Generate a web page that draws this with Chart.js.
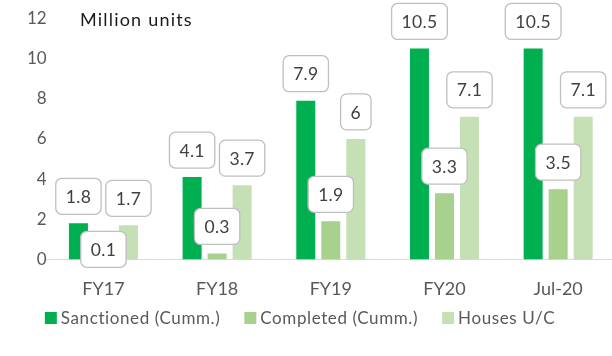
<!DOCTYPE html>
<html>
<head>
<meta charset="utf-8">
<script src="https://cdn.jsdelivr.net/npm/chart.js@4.4.1/dist/chart.umd.min.js"></script>
<style>
  html, body { margin: 0; padding: 0; background: #fff; overflow: hidden; }
  #wrap { position: relative; width: 616px; height: 356px; }
</style>
</head>
<body>
<div id="wrap"><canvas id="c" width="616" height="356"></canvas></div>
<script>
// Housing scheme progress, in million units
const categories = ['FY17', 'FY18', 'FY19', 'FY20', 'Jul-20'];
const sanctioned = [1.8, 4.1, 7.9, 10.5, 10.5];
const completed  = [0.1, 0.3, 1.9, 3.3, 3.5];
const underConstruction = [1.7, 3.7, 6, 7.1, 7.1];
const seriesNames = ['Sanctioned (Cumm.)', 'Completed (Cumm.)', 'Houses U/C'];
const yTicks = [0, 2, 4, 6, 8, 10, 12];

const COLORS = ['#00B050', '#A9D18E', '#C5E0B4'];
const FONT = 'Lato, "Open Sans", sans-serif';

// Boxed value labels above each bar; a label that would collide with an
// already placed one is pushed below it.
const boxedLabels = {
  id: 'boxedLabels',
  afterDatasetsDraw(chart) {
    const ctx = chart.ctx;
    ctx.save();
    ctx.letterSpacing = '0.3px';
    ctx.font = '17.5px ' + FONT;
    ctx.textAlign = 'center';
    ctx.textBaseline = 'middle';
    const placed = [];
    const h = 36, padX = 10, lift = 27;
    // draw order: tallest series first so smaller ones yield
    [0, 2, 1].forEach(di => {
      const meta = chart.getDatasetMeta(di);
      meta.data.forEach((bar, i) => {
        const txt = String(chart.data.datasets[di].data[i]);
        const w = ctx.measureText(txt).width + padX * 2;
        let cy = bar.y - lift;
        let box = { x: bar.x - w / 2, y: cy - h / 2, w, h };
        placed.forEach(p => {
          const ox = box.x < p.x + p.w && box.x + box.w > p.x;
          const oy = box.y < p.y + p.h && box.y + box.h > p.y;
          if (ox && oy) {
            box.y = p.y + p.h + 17;
          }
        });
        placed.push(box);
        ctx.beginPath();
        ctx.roundRect(box.x, box.y, box.w, box.h, 6);
        ctx.fillStyle = '#ffffff';
        ctx.fill();
        ctx.lineWidth = 1.3;
        ctx.strokeStyle = '#BFBFBF';
        ctx.stroke();
        ctx.fillStyle = '#404040';
        ctx.fillText(txt, box.x + box.w / 2, box.y + box.h / 2 + 1);
      });
    });
    ctx.restore();
  }
};

// Unit caption and bottom legend
const extras = {
  id: 'extras',
  afterDraw(chart) {
    const ctx = chart.ctx;
    ctx.save();
    ctx.fillStyle = '#1a1a1a';
    ctx.letterSpacing = '1.2px';
    ctx.font = '18px ' + FONT;
    ctx.textAlign = 'left';
    ctx.textBaseline = 'middle';
    ctx.fillText('Million units', 80, 20);

    ctx.letterSpacing = '0.6px';
    ctx.font = '17px ' + FONT;
    const box = 12, gap = 4, spacing = 24;
    const items = chart.data.datasets.map(d => ({
      label: d.label, color: d.backgroundColor,
      w: box + gap + ctx.measureText(d.label).width
    }));
    const total = items.reduce((s, it) => s + it.w, 0) + spacing * (items.length - 1);
    let x = 300 - total / 2;
    const y = 318;
    items.forEach(it => {
      ctx.fillStyle = it.color;
      ctx.fillRect(x, y - box / 2, box, box);
      ctx.fillStyle = '#595959';
      ctx.fillText(it.label, x + box + gap, y + 1);
      x += it.w + spacing;
    });
    ctx.restore();
  }
};

new Chart(document.getElementById('c'), {
  type: 'bar',
  data: {
    labels: categories,
    datasets: [
      { label: seriesNames[0], data: sanctioned, backgroundColor: COLORS[0] },
      { label: seriesNames[1], data: completed, backgroundColor: COLORS[1] },
      { label: seriesNames[2], data: underConstruction, backgroundColor: COLORS[2] }
    ]
  },
  options: {
    responsive: false,
    animation: false,
    layout: { padding: { top: 18.3, right: 1, bottom: 56.5, left: 19.6 } },
    datasets: { bar: { categoryPercentage: 0.66, barPercentage: 0.76 } },
    plugins: { legend: { display: false }, tooltip: { enabled: false } },
    scales: {
      x: {
        grid: { display: true, drawOnChartArea: false, drawTicks: false },
        border: { display: true, color: '#D9D9D9', width: 1 },
        ticks: { color: '#595959', font: { family: FONT, size: 18 }, padding: 19 },
        afterFit(scale) { scale.height = 40; }
      },
      y: {
        min: 0, max: 12,
        afterBuildTicks(scale) { scale.ticks = yTicks.map(v => ({ value: v })); },
        grid: { display: false, drawTicks: false },
        border: { display: false },
        ticks: { color: '#595959', font: { family: FONT, size: 17 }, padding: 0 },
        afterFit(scale) { scale.width = 27; }
      }
    }
  },
  plugins: [boxedLabels, extras]
});
</script>
</body>
</html>
